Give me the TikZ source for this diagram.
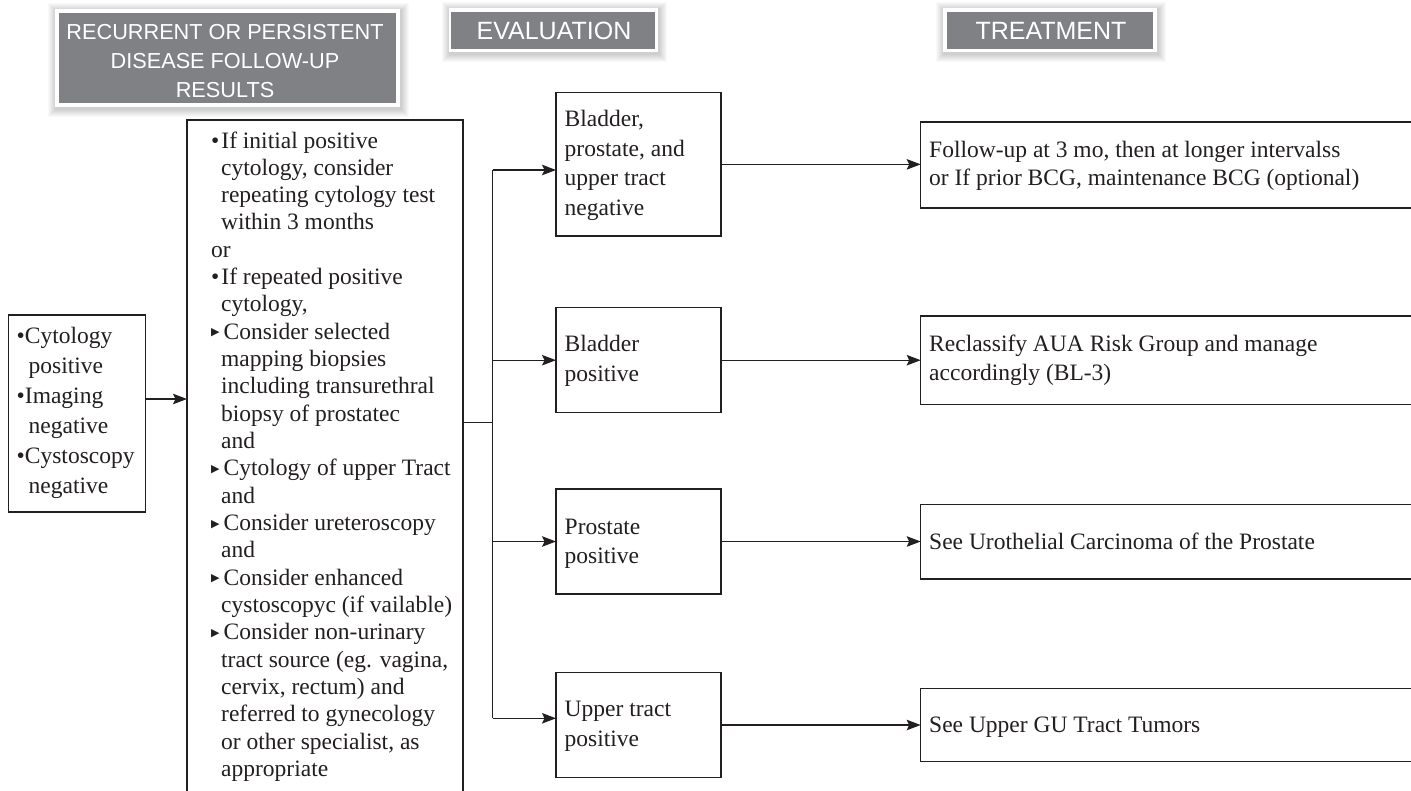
\documentclass[tikz,border=0pt]{standalone}
\usepackage{fontspec}
\setmainfont{Liberation Serif}
\newfontfamily\headfont{Liberation Sans}
\newfontfamily\symfont{DejaVu Sans}
\usetikzlibrary{arrows.meta}

\definecolor{ink}{RGB}{35,31,32}
\definecolor{headgray}{RGB}{128,129,133}

% list markers and hanging indents
\newcommand\bul{\textbullet\hspace{2pt}}
\newcommand\bi{\hspace*{10pt}}
\newcommand\li{\hspace*{12pt}}
\newcommand\tri{\makebox[12.5pt][l]{\raisebox{3.4pt}{\symfont\fontsize{11}{11}\selectfont ▶}}}

% text block whose first baseline sits on the node's base anchor
\newcommand\block[2]{\begin{minipage}[t]{600pt}\raggedright\fontsize{23.5}{#1}\selectfont #2\end{minipage}}
\newcommand\hblock[3]{\begin{minipage}[t]{360pt}\centering\headfont\fontsize{#1}{#2}\selectfont #3\end{minipage}}

% soft shadow behind a heading label
\newcommand\hshadow[4]{%
  \foreach \k in {1,...,8}{
    \fill[black, opacity=0.022] ({#1-\k+1},{#2-\k+2}) rectangle ({#3+\k+1},{#4+\k+2});
  }}

\tikzset{
  line/.style={draw=ink, line width=1.3pt},
  arr/.style={line, -{Stealth[length=14pt, width=10.5pt, inset=2.5pt]}},
  bx/.style={draw=ink, line width=1.3pt, rectangle, inner sep=0pt, outer sep=0pt},
  txt/.style={anchor=base west, inner sep=0pt, text=ink},
  htxt/.style={anchor=base, inner sep=0pt, text=white},
  hbox/.style={rectangle, fill=headgray, inner sep=0pt, outer sep=0pt},
  hframe/.style={rectangle, fill=white, inner sep=0pt, outer sep=0pt}
}

\begin{document}
\begin{tikzpicture}[x=1pt, y=-1pt]
\useasboundingbox (0,0) rectangle (1411,790);
\clip (0,0) rectangle (1411,790);
\fill[white] (0,0) rectangle (1411,790);

% ---------- column headings ----------
\hshadow{55}{9.3}{400}{107.3}
\node[hframe, minimum width=345pt, minimum height=98pt] (h1f) at (227.5,58.3) {};
\node[hbox, minimum width=337pt, minimum height=90.6pt] (h1) at (227.5,58) {};
\node[htxt] (h1t) at (225,39) {\hblock{21.7}{29}{RECURRENT OR PERSISTENT\\DISEASE FOLLOW-UP\\RESULTS}};

\hshadow{449.3}{8.3}{657.7}{52.3}
\node[hframe, minimum width=208.4pt, minimum height=44pt] (h2f) at (553.5,30.3) {};
\node[hbox, minimum width=204.3pt, minimum height=37.3pt] (h2) at (553.15,30.65) {};
\node[htxt] (h2t) at (554,39.3) {\hblock{25}{29}{EVALUATION}};

\hshadow{943}{8.3}{1157}{52.3}
\node[hframe, minimum width=214pt, minimum height=44pt] (h3f) at (1050,30.3) {};
\node[hbox, minimum width=206pt, minimum height=37.3pt] (h3) at (1050,30.65) {};
\node[htxt] (h3t) at (1051,39.3) {\hblock{25}{29}{TREATMENT}};

% ---------- boxes ----------
\node[bx, minimum width=137.4pt, minimum height=197pt] (L) at (77,413.5) {};
\node[bx, minimum width=276pt, minimum height=690pt] (B) at (325,465) {};

\node[bx, minimum width=165pt, minimum height=143.3pt] (E1) at (638.5,164.35) {};
\node[bx, minimum width=165pt, minimum height=105pt] (E2) at (638.5,360.2) {};
\node[bx, minimum width=165pt, minimum height=105pt] (E3) at (638.5,541.5) {};
\node[bx, minimum width=165pt, minimum height=104.6pt] (E4) at (638.5,725) {};

\node[bx, minimum width=504.3pt, minimum height=86pt] (R1) at (1172.85,165) {};
\node[bx, minimum width=504.3pt, minimum height=88.3pt] (R2) at (1172.85,360.15) {};
\node[bx, minimum width=504.3pt, minimum height=74.5pt] (R3) at (1172.85,541.75) {};
\node[bx, minimum width=504.3pt, minimum height=73.4pt] (R4) at (1172.85,725) {};

% ---------- texts ----------
\node[txt] (Lt) at (16.5,343) {\block{30}{%
\textbullet Cytology\\
\li positive\\
\textbullet Imaging\\
\li negative\\
\textbullet Cystoscopy\\
\li negative}};

\node[txt] (Bt) at (211,148) {\block{27.33}{%
\bul If initial positive\\
\bi cytology, consider\\
\bi repeating cytology test\\
\bi within 3 months\\
or\\
\bul If repeated positive\\
\bi cytology,\\
\tri Consider selected\\
\bi mapping biopsies\\
\bi including transurethral\\
\bi biopsy of prostatec\\
\bi and\\
\tri Cytology of upper Tract\\
\bi and\\
\tri Consider ureteroscopy\\
\bi and\\
\tri Consider enhanced\\
\bi cystoscopyc (if vailable)\\
\tri Consider non-urinary\\
\bi tract source (eg. vagina,\\
\bi cervix, rectum) and\\
\bi referred to gynecology\\
\bi or other specialist, as\\
\bi appropriate}};

\node[txt] (E1t) at (564.5,126.7) {\block{29.6}{Bladder,\\prostate, and\\upper tract\\negative}};
\node[txt] (E2t) at (564.5,351.7) {\block{29.6}{Bladder\\positive}};
\node[txt] (E3t) at (564.5,534.3) {\block{29.6}{Prostate\\positive}};
\node[txt] (E4t) at (564.5,716.8) {\block{29.6}{Upper tract\\positive}};

\node[txt] (R1t) at (929,157) {\block{28.3}{Follow-up at 3 mo, then at longer intervalss\\or If prior BCG, maintenance BCG (optional)}};
\node[txt] (R2t) at (929,351.7) {\block{28.3}{Reclassify AUA Risk Group and manage\\accordingly (BL-3)}};
\node[txt] (R3t) at (929,549.3) {\block{28.3}{See Urothelial Carcinoma of the Prostate}};
\node[txt] (R4t) at (929,732.8) {\block{28.3}{See Upper GU Tract Tumors}};

% ---------- connectors ----------
\coordinate (inL) at (0,399);
\coordinate (hub) at (492.7,422.7);
\coordinate (sTop) at (492.7,170);
\coordinate (sBot) at (492.7,718.3);

\draw[arr] (L.east |- inL) -- (B.west |- inL);
\draw[line] (B.east |- hub) -- (hub);
\draw[line] (sTop) -- (sBot);
\draw[arr] (sTop) -- (E1.west |- sTop);
\draw[arr] (sTop |- E2.west) -- (E2.west);
\draw[arr] (sTop |- E3.west) -- (E3.west);
\draw[arr] (sBot) -- (E4.west |- sBot);

\draw[arr] (E1.east) -- (E1.east -| R1.west);
\draw[arr] (E2.east) -- (E2.east -| R2.west);
\draw[arr] (E3.east) -- (E3.east -| R3.west);
\draw[arr] (E4.east) -- (E4.east -| R4.west);
\end{tikzpicture}
\end{document}
